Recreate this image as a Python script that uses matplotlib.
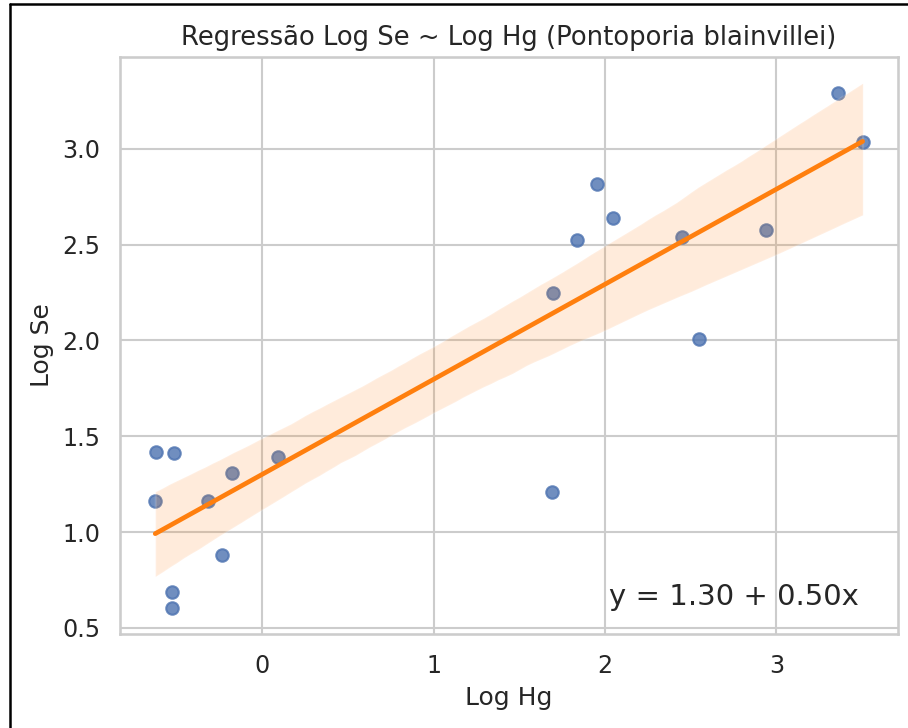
import numpy as np
import pandas as pd
import matplotlib
matplotlib.use("Agg")
import matplotlib.pyplot as plt
from matplotlib.lines import Line2D
import seaborn as sns

# values
log_hg = [-0.62, -0.515, -0.626, -0.32, -0.18, 0.088, -0.234, -0.53, -0.53,
          1.696, 1.836, 1.953, 2.047, 2.45, 2.55, 2.94, 1.69, 3.357, 3.503]
log_se = [1.42, 1.415, 1.164, 1.164, 1.31, 1.39, 0.88, 0.69, 0.605,
          2.247, 2.524, 2.817, 2.64, 2.54, 2.006, 2.576, 1.21, 3.293, 3.037]
equation = "y = 1.30 + 0.50x"

df = pd.DataFrame({"Log Hg": log_hg, "Log Se": log_se})

sns.set_theme(style="whitegrid")
plt.rcParams["font.family"] = ["DejaVu Sans"]
plt.rcParams["xtick.labelsize"] = 11.4
plt.rcParams["ytick.labelsize"] = 11.4

fig, ax = plt.subplots(figsize=(908 / 150, 728 / 150), dpi=150)
fig.subplots_adjust(left=0.132, right=0.989, top=0.9217, bottom=0.129)

sns.regplot(data=df, x="Log Hg", y="Log Se", ax=ax, seed=3,
            line_kws={"color": "#ff7f0e"})

ax.set_title("Regressão Log Se ~ Log Hg (Pontoporia blainvillei)", fontsize=12.4)
ax.text(0.95, 0.05, equation, transform=ax.transAxes, ha="right", fontsize=14)

# screenshot frame on the left and top
fig.add_artist(Line2D([9.5 / 908, 9.5 / 908], [0, 1 - 4 / 728],
                      transform=fig.transFigure, color="black", lw=1.2))
fig.add_artist(Line2D([9.5 / 908, 1], [1 - 4 / 728, 1 - 4 / 728],
                      transform=fig.transFigure, color="black", lw=1.2))

plt.savefig("out.png", dpi=150)
